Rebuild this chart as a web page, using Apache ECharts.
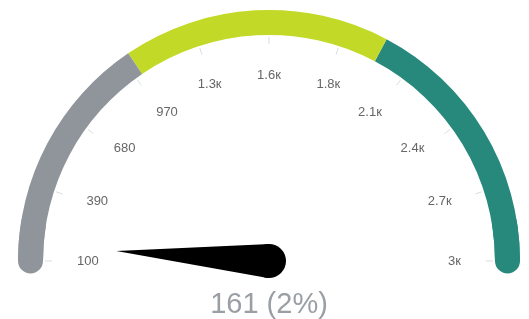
<!DOCTYPE html>
<html>
<head>
<meta charset="utf-8">
<script src="https://cdn.jsdelivr.net/npm/echarts@6/dist/echarts.min.js"></script>
<style>
  html, body { margin: 0; padding: 0; background: #fff; }
  #chart { width: 529px; height: 319px; }
</style>
</head>
<body>
<div id="chart"></div>
<script>
  // gauge data
  var minValue = 100;
  var maxValue = 3000;
  var currentValue = [161];
  var bandEnds = [1000, 2000, 3000];
  var bandColors = ['#8f959b', '#c2da27', '#26897c'];
  var tickLabels = ['100', '390', '680', '970', '1.3к', '1.6к', '1.8к', '2.1к', '2.4к', '2.7к', '3к'];

  var splitNumber = tickLabels.length - 1;
  var step = (maxValue - minValue) / splitNumber;

  var colorStops = bandEnds.map(function (v, i) {
    return [(v - minValue) / (maxValue - minValue), bandColors[i]];
  });

  var centerPos = [269, 261];
  var outerR = 251;
  var bandWidth = 25;

  // round caps only at both ends (segments stay square cut)
  var capSeries = {
    type: 'gauge',
    center: centerPos,
    radius: outerR,
    startAngle: 180,
    endAngle: 0,
    min: minValue,
    max: maxValue,
    axisLine: {
      roundCap: true,
      lineStyle: {
        width: bandWidth,
        color: [[0.05, bandColors[0]], [0.95, 'rgba(0,0,0,0)'], [1, bandColors[bandColors.length - 1]]]
      }
    },
    axisTick: { show: false },
    splitLine: { show: false },
    axisLabel: { show: false },
    pointer: { show: false },
    anchor: { show: false },
    title: { show: false },
    detail: { show: false },
    data: [{ value: minValue }]
  };

  var chart = echarts.init(document.getElementById('chart'));
  chart.setOption({
    animation: false,
    series: [capSeries, {
      type: 'gauge',
      center: centerPos,
      radius: outerR,
      startAngle: 180,
      endAngle: 0,
      min: minValue,
      max: maxValue,
      splitNumber: splitNumber,
      axisLine: {
        lineStyle: { width: bandWidth, color: colorStops }
      },
      axisTick: { show: false },
      splitLine: {
        distance: 2,
        length: 7,
        lineStyle: { color: '#d9dde0', width: 1 }
      },
      axisLabel: {
        distance: 50,
        color: '#666',
        fontSize: 13,
        fontFamily: 'Liberation Sans, Arial, sans-serif',
        formatter: function (v) {
          return tickLabels[Math.round((v - minValue) / step)];
        }
      },
      pointer: {
        icon: 'path://M17,0 L34,100 L0,100 Z',
        length: 153,
        width: 34,
        itemStyle: { color: '#000' }
      },
      anchor: {
        show: true,
        showAbove: true,
        size: 34,
        itemStyle: { color: '#000' }
      },
      title: { show: false },
      detail: {
        offsetCenter: [0, 44],
        fontSize: 29,
        fontWeight: 'normal',
        color: '#9a9fa5',
        fontFamily: 'Liberation Sans, Arial, sans-serif',
        formatter: function (v) {
          var pct = Math.round((v - minValue) / (maxValue - minValue) * 100);
          return v + ' (' + pct + '%)';
        }
      },
      data: [{ value: currentValue[0] }]
    }]
  });
</script>
</body>
</html>
